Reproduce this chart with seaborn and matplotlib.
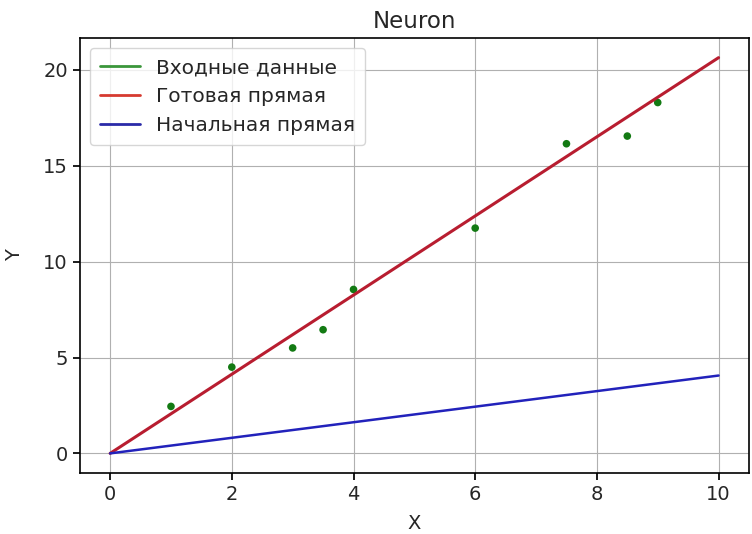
import numpy as np
import seaborn as sns
import matplotlib
matplotlib.use("Agg")
import matplotlib.pyplot as plt
from matplotlib.lines import Line2D

# входные точки
x_data = [1, 2, 3, 3.5, 4, 6, 7.5, 8.5, 9]
y_data = [2.45, 4.5, 5.5, 6.45, 8.55, 11.75, 16.15, 16.55, 18.3]

# концы прямых
line_x = [0, 10]
final_y = [0, 20.64]
start_y = [0, 4.06]

sns.set_theme(style="ticks", rc={"axes.grid": True})
plt.rcParams['font.family'] = ['DejaVu Sans']

fig = plt.figure(figsize=(7.52, 5.34), dpi=100)
ax = fig.add_axes([0.106, 0.114, 0.89, 0.815])

sns.scatterplot(x=x_data, y=y_data, color="#137a13", s=30, edgecolor="none", ax=ax)
sns.lineplot(x=line_x, y=final_y, color="#b81d30", linewidth=2.2, ax=ax)
sns.lineplot(x=line_x, y=start_y, color="#2222bb", linewidth=1.8, ax=ax)

ax.set_xlim(-0.5, 10.5)
ax.set_ylim(-1.03, 21.67)
ax.set_xticks([0, 2, 4, 6, 8, 10])
ax.set_yticks([0, 5, 10, 15, 20])
ax.grid(True, color="#b0b0b0", linewidth=0.8)
for s in ax.spines.values():
    s.set_color("black")
    s.set_linewidth(1.2)
ax.tick_params(labelsize=14, length=5, color="black")

ax.set_title("Neuron", fontsize=16.5, pad=7)
ax.set_xlabel("X", fontsize=14, labelpad=7)
ax.set_ylabel("Y", fontsize=14, labelpad=14)

handles = [
    Line2D([], [], color="#3a963a", linewidth=2),
    Line2D([], [], color="#d63a30", linewidth=2),
    Line2D([], [], color="#2a2aa8", linewidth=2),
]
ax.legend(handles, ["Входные данные", "Готовая прямая", "Начальная прямая"],
          loc="upper left", fontsize=14.5, frameon=True, borderpad=0.5)

fig.savefig("out.png", dpi=100)
